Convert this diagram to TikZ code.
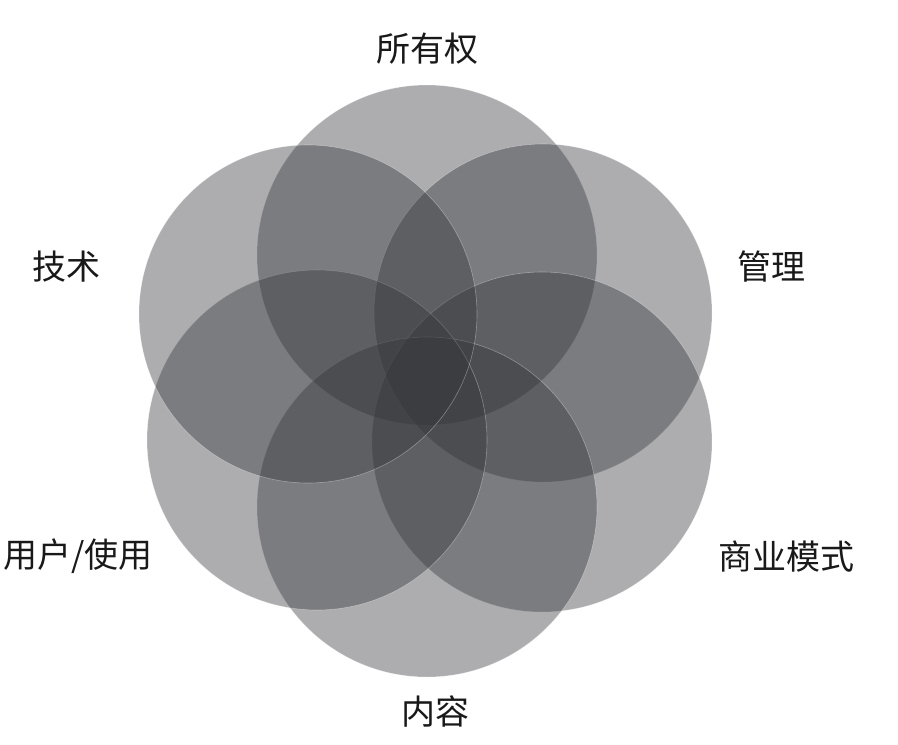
\documentclass[tikz,border=0pt]{standalone}
\usepackage{fontspec}
\newfontfamily\cjk{Noto Sans CJK SC}
\definecolor{petalgray}{RGB}{50,52,56}
\begin{document}
\begin{tikzpicture}[x=1pt,y=-1pt,
  petal/.style={fill=petalgray,fill opacity=0.4,draw=white,draw opacity=0.35,line width=0.6pt},
  lbl/.style={font=\cjk\fontsize{34}{36}\selectfont,text=black!90,inner sep=0pt}]
\useasboundingbox (0,0) rectangle (898,745);
\fill[white] (0,0) rectangle (898,745);
\path[petal] (427,255) circle[radius=170];
\path[petal] (543,313) circle[radius=169];
\path[petal] (542,442) circle[radius=170];
\path[petal] (427,507) circle[radius=170];
\path[petal] (317,440) circle[radius=170];
\path[petal] (308,314) circle[radius=169];
\node[lbl] (own) at (427,49) {所有权};
\node[lbl] (mgmt) at (771,267) {管理};
\node[lbl] (biz) at (786,557) {商业模式};
\node[lbl] (content) at (435,711) {内容};
\node[lbl] (user) at (78,556) {用户/使用};
\node[lbl] (tech) at (66,267) {技术};
\end{tikzpicture}
\end{document}
